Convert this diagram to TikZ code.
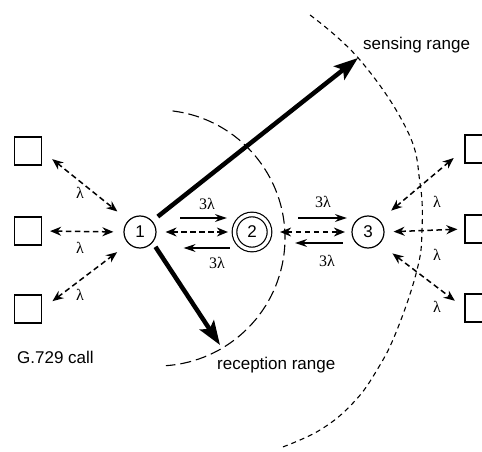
\documentclass[tikz,border=0pt]{standalone}
\usepackage{fontspec}
\setmainfont{Liberation Sans}
\newfontfamily\greekfont{Liberation Serif}
\usepackage{tikz}
\usetikzlibrary{arrows.meta,positioning}

\begin{document}
\begin{tikzpicture}[x=1pt, y=1pt, font=\fontsize{17}{20}\selectfont,
  every node/.style={inner sep=0pt},
  user/.style={draw, line width=1.2pt, minimum width=27pt, minimum height=28pt},
  station/.style={draw, circle, line width=1.2pt, minimum size=32pt},
  rate/.style={font=\fontsize{16}{18}\selectfont\greekfont},
  link/.style={line width=1.5pt, dash pattern=on 5.5pt off 3.5pt,
    {Stealth[length=11pt,width=9pt]}-{Stealth[length=11pt,width=9pt]}},
  flow/.style={line width=1.4pt, -{Stealth[length=12pt,width=8pt]}},
  reach/.style={line width=4.5pt, -{Stealth[length=24pt,width=17pt,inset=5pt]}}]
  \useasboundingbox (0,0) rectangle (482,451);
  \clip (0,0) rectangle (482,451);

  % Stations
  \node[station] (n1) at (140,219) {1};
  \node[station, double, double distance=3.4pt, minimum size=35pt] (n2) at (252,219) {2};
  \node[station] (n3) at (368,219) {3};

  % Calls on both sides
  \foreach \i/\y in {t/300, m/220, b/142} {
    \node[user] (l\i) at (28,\y) {};
  }
  \foreach \i/\y in {t/302, m/222, b/143} {
    \node[user] (r\i) at (478.5,\y) {};
  }

  \draw[link, shorten <=13pt, shorten >=14pt] (lt.east) -- (n1.north west);
  \draw[link, shorten <=8pt, shorten >=10pt] (lm.east) -- (n1.west);
  \draw[link, shorten <=13pt, shorten >=14pt] (lb.east) -- (n1.south west);
  \draw[link, shorten <=15pt, shorten >=14pt] (n3.north east) -- (rt.west);
  \draw[link, shorten <=9pt, shorten >=7pt] (n3.east) -- (rm.west);
  \draw[link, shorten <=16pt, shorten >=12pt] (n3.south east) -- (rb.west);
  \foreach \x/\y/\nm in {80/258/a, 80/203/b, 80/156/c, 437/249/d, 437/196/e, 437/144/f} {
    \node[rate] (lam\nm) at (\x,\y) {λ};
  }

  % Relay between the stations
  \draw[flow, shorten <=23.5pt, shorten >=7pt] ([yshift=14pt]n1.east) -- ([yshift=14pt]n2.west);
  \draw[link, shorten <=9pt, shorten >=6pt] (n1.east) -- (n2.west);
  \draw[flow, shorten <=4pt, shorten >=27pt] ([yshift=-16pt]n2.west) -- ([yshift=-16pt]n1.east);
  \draw[flow, shorten <=28pt, shorten >=4.5pt] ([yshift=14pt]n2.east) -- ([yshift=14pt]n3.west);
  \draw[link, shorten <=10pt, shorten >=6.5pt] (n2.east) -- (n3.west);
  \draw[flow, shorten <=8.5pt, shorten >=25pt] ([yshift=-11pt]n3.west) -- ([yshift=-11pt]n2.east);
  \node[rate] (r12a) at (207,247) {3λ};
  \node[rate] (r12b) at (217,188) {3λ};
  \node[rate] (r23a) at (323,249) {3λ};
  \node[rate] (r23b) at (327,190) {3λ};

  % Ranges
  \coordinate (senstip) at (358,393);
  \coordinate (recvtip) at (220,106);
  \coordinate (recvc) at (157,213);
  \draw[reach, shorten <=7pt] (n1.42) -- (senstip);
  \draw[reach, shorten <=5pt] (n1.-40) -- (recvtip);
  \draw[line width=1.1pt, dash pattern=on 11pt off 5pt]
    (recvc) ++(83:128) arc[start angle=83, end angle=-86, radius=128];
  \draw[line width=1.1pt, dash pattern=on 5pt off 4pt] plot[smooth, tension=0.7]
    coordinates {(310,436) (360,391) (407,321) (420,268) (422,221) (417,181)
                 (397,121) (377,81) (353,48) (320,21) (280,3)};

  \node[anchor=base west] (senslbl) at (363,401) {sensing range};
  \node[anchor=base west] (recvlbl) at (217,82) {reception range};
  \node[anchor=base west] (calllbl) at (17,88) {G.729 call};
\end{tikzpicture}
\end{document}
